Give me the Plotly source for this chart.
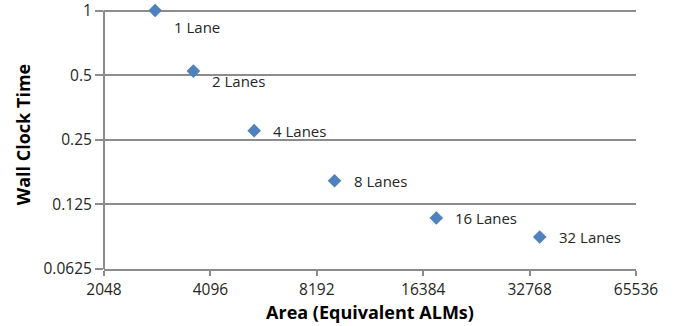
import math
import plotly.graph_objects as go

# Design points: area vs normalised wall-clock time
lanes = ["1 Lane", "2 Lanes", "4 Lanes", "8 Lanes", "16 Lanes", "32 Lanes"]
area_alms = [2857, 3666, 5448, 9196, 17843, 35000]
wall_clock = [1.0, 0.522, 0.2755, 0.161, 0.108, 0.0881]

x_ticks = [2048, 4096, 8192, 16384, 32768, 65536]
x_tick_text = ["2048", "4096", "8192", "16384", "32768", "65536"]
y_ticks = [0.0625, 0.125, 0.25, 0.5, 1]
y_tick_text = ["0.0625", "0.125", "0.25", "0.5", "1"]

# Label offsets (pixels) relative to each marker
label_dy = [-16, -10, 0, 0, 0, 0]

FONT = "Open Sans, Liberation Sans, sans-serif"
GRID = "#8c8c8c"
TEXT = "#262626"

y_lo = math.log10(min(y_ticks))
y_hi = math.log10(max(y_ticks))
# a little headroom above the top tick so its label and gridline are kept
y_top = y_hi + 0.049

fig = go.Figure(
    go.Scatter(
        x=area_alms,
        y=wall_clock,
        mode="markers",
        marker=dict(symbol="diamond", size=10.5, color="#4F81BD",
                    line=dict(width=0)),
        cliponaxis=False,
        showlegend=False,
    )
)

for name, xv, yv, dy in zip(lanes, area_alms, wall_clock, label_dy):
    fig.add_annotation(
        x=math.log10(xv), y=math.log10(yv), text=name,
        showarrow=False, xanchor="left", yanchor="middle",
        xshift=17, yshift=dy,
        font=dict(family=FONT, size=15, color=TEXT),
    )

# vertical axis line, running only from the bottom up to the top tick
fig.add_shape(
    type="line", xref="paper", yref="paper",
    x0=0, x1=0, y0=0, y1=(y_hi - y_lo) / (y_top - y_lo),
    line=dict(color=GRID, width=2), layer="above",
)

fig.update_layout(
    width=674, height=326,
    margin=dict(l=104, r=38, t=0, b=57),
    paper_bgcolor="white", plot_bgcolor="white",
    font=dict(family=FONT, size=15, color=TEXT),
    xaxis=dict(
        type="log", automargin=False,
        range=[math.log10(2048), math.log10(65536)],
        tickvals=x_ticks, ticktext=x_tick_text,
        showgrid=False, zeroline=False,
        showline=True, linecolor=GRID, linewidth=2,
        ticks="outside", ticklen=5, tickcolor=GRID, tickwidth=1.5,
        tickfont=dict(family=FONT, size=15.5, color=TEXT),
        title=dict(text="<b>Area (Equivalent ALMs)</b>", standoff=6,
                   font=dict(family=FONT, size=18, color="#000000")),
    ),
    yaxis=dict(
        type="log", automargin=False,
        range=[y_lo, y_top],
        tickvals=y_ticks, ticktext=y_tick_text,
        ticklabeloverflow="allow",
        showgrid=True, gridcolor=GRID, gridwidth=1.5,
        zeroline=False, showline=False,
        ticks="outside", ticklen=8, tickcolor=GRID, tickwidth=1.5,
        tickfont=dict(family=FONT, size=15.5, color=TEXT),
        title=dict(text="<b>Wall Clock Time</b>", standoff=8,
                   font=dict(family=FONT, size=18, color="#000000")),
    ),
)

fig.write_html("out.html")
